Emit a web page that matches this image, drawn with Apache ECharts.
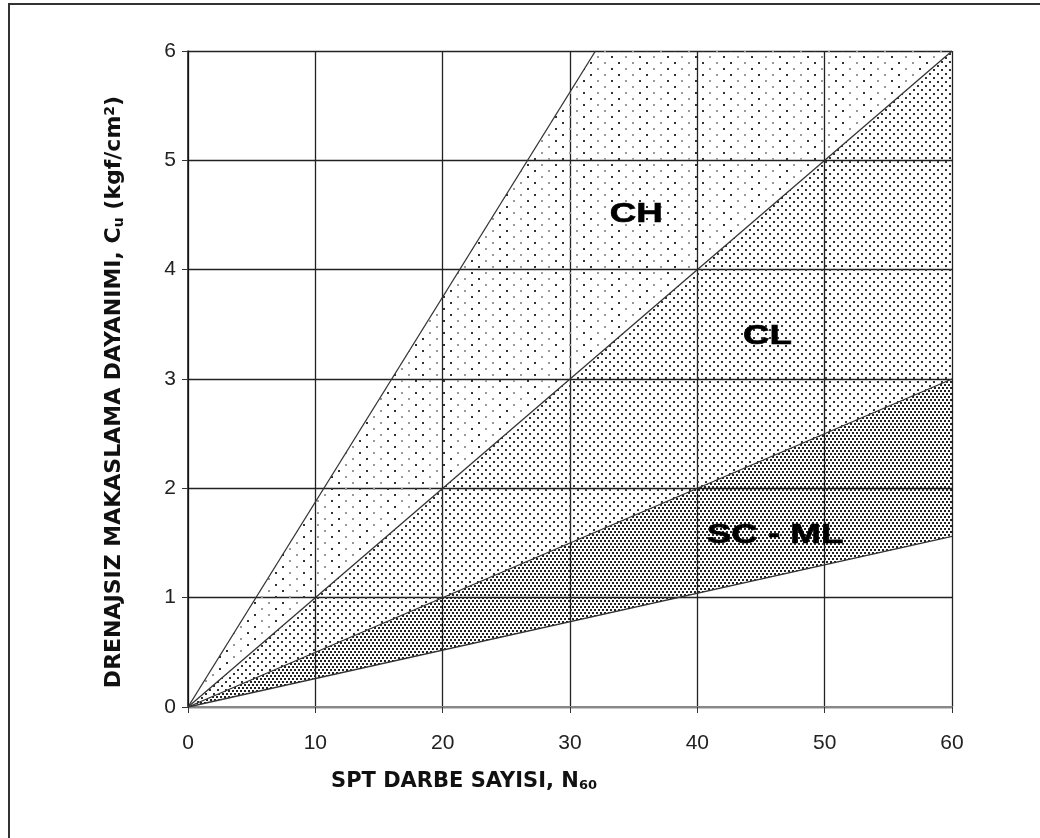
<!DOCTYPE html>
<html><head><meta charset="utf-8">
<script src="https://cdn.jsdelivr.net/npm/echarts@6/dist/echarts.min.js"></script>
<style>html,body{margin:0;padding:0;background:#fff}#c{width:1040px;height:838px}</style>
</head><body><div id="c"></div>
<script>
// ---- data ----
const xTickLabels = ['0','10','20','30','40','50','60'];
const yTickLabels = ['0','1','2','3','4','5','6'];
// boundary lines [N60, Cu]
const lineCHtop   = [[0,0],[32,6]];
const lineCH_CL   = [[0,0],[60,6]];
const lineCL_SC   = [[0,0],[60,3]];
const lineSCbottom= [[0,0],[60,1.56]];
// shaded zones
const zoneCH = [[0,0],[32,6],[60,6]];
const zoneCL = [[0,0],[60,6],[60,3]];
const zoneSC = [[0,0],[60,3],[60,1.56]];
const zoneNames = ['CH','CL','SC - ML'];
const zoneLabelAt = [[35.2,4.5],[45.5,3.39],[46.1,1.57]];

// ---- patterns ----
function pattern(w,h,dots){
  const c=document.createElement('canvas'); c.width=w; c.height=h;
  const g=c.getContext('2d');
  dots.forEach(d=>{g.fillStyle=d[2]; g.fillRect(d[0],d[1],d[3],d[3]);});
  return {image:c, repeat:'repeat'};
}
const patCH = pattern(28,12,[[2,2,'#333',2],[16,2,'#999',2],[9,8,'#999',2],[23,8,'#333',2]]);
const patCL = pattern(8,8,[[1,1,'#333',2],[5,5,'#333',2]]);
const patSC = pattern(4,6,[[0,0,'#222',2],[2,3,'#222',2]]);

function zoneSeries(pts, fill){
  return {
    type:'custom', z:1, silent:true, clip:true,
    data:[0],
    renderItem:function(params, api){
      return {type:'polygon', shape:{points: pts.map(p=>api.coord(p))}, style:{fill:fill, stroke:null}};
    }
  };
}
function lineSeries(d){
  return {type:'line', data:d, symbol:'none', z:3, silent:true,
    lineStyle:{color:'#333', width:1.3}, animation:false};
}

const titleFont = 'DejaVu Sans';
const chart = echarts.init(document.getElementById('c'), null, {renderer:'canvas'});
chart.setOption({
  animation:false,
  backgroundColor:'#fff',
  textStyle:{fontFamily:'Liberation Sans, Arial, sans-serif'},
  grid:{left:188, right:88, top:51, bottom:131},
  graphic:[{type:'rect', shape:{x:9, y:4, width:1100, height:900},
    style:{fill:'none', stroke:'#333', lineWidth:2}, z:0}],
  xAxis:{type:'value', min:0, max:60, interval:10,
    axisLine:{show:true, lineStyle:{color:'#888', width:2}},
    axisTick:{show:true, length:6, lineStyle:{color:'#333'}},
    axisLabel:{margin:26, fontSize:21, color:'#222',
      formatter:(v)=>xTickLabels[Math.round(v/10)]},
    splitLine:{show:true, lineStyle:{color:'#222', width:1.3}},
    name:'{b|SPT DARBE SAYISI, N}{s|60}', nameLocation:'middle', nameGap:64,
    nameTextStyle:{padding:[0,212,0,0], rich:{
      b:{fontSize:21, fontWeight:'bold', color:'#111', fontFamily:titleFont},
      s:{fontSize:13, fontWeight:'bold', color:'#111', fontFamily:titleFont, padding:[8,0,0,0]}}}
  },
  yAxis:{type:'value', min:0, max:6, interval:1,
    axisLine:{show:true, lineStyle:{color:'#111', width:1.5}},
    axisTick:{show:true, length:6, lineStyle:{color:'#333'}},
    axisLabel:{margin:12, fontSize:21, color:'#222',
      formatter:(v)=>yTickLabels[Math.round(v)]},
    splitLine:{show:true, lineStyle:{color:'#222', width:1.3}},
    name:'{b|DRENAJSIZ MAKASLAMA DAYANIMI, C}{s|u}{b| (kgf/cm}{p|2}{b|)}',
    nameLocation:'middle', nameGap:62, nameRotate:90,
    nameTextStyle:{padding:[0,26,0,0], rich:{
      b:{fontSize:22, fontWeight:'bold', color:'#111', fontFamily:titleFont},
      s:{fontSize:14, fontWeight:'bold', color:'#111', fontFamily:titleFont, padding:[9,0,0,0]},
      p:{fontSize:14, fontWeight:'bold', color:'#111', fontFamily:titleFont, padding:[0,0,9,0]}}}
  },
  series:[
    zoneSeries(zoneCH, patCH),
    zoneSeries(zoneCL, patCL),
    zoneSeries(zoneSC, patSC),
    lineSeries(lineCHtop),
    lineSeries(lineCH_CL),
    lineSeries(lineCL_SC),
    lineSeries(lineSCbottom),
    {type:'custom', z:5, silent:true, clip:false,
     data: zoneNames.map((n,i)=>[zoneLabelAt[i][0], zoneLabelAt[i][1], i]),
     renderItem:function(params, api){
       const p = api.coord([api.value(0), api.value(1)]);
       return {type:'text', x:p[0], y:p[1], scaleX:1.36, scaleY:1,
         style:{text: zoneNames[api.value(2)], align:'center', verticalAlign:'middle',
           font:'bold 27px "Liberation Sans", Arial, sans-serif', fill:'#000',
           stroke:'#000', lineWidth:0.6}};
     }}
  ]
});
</script>
</body></html>
